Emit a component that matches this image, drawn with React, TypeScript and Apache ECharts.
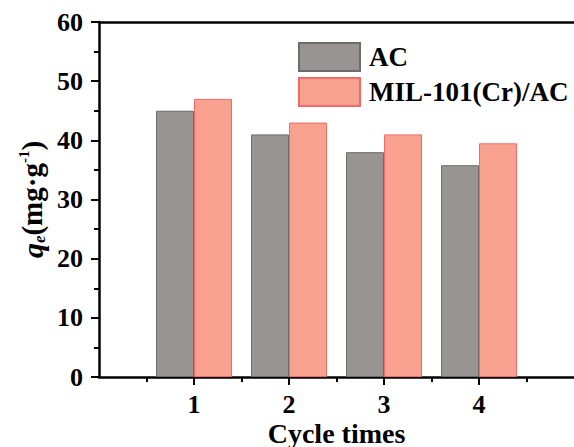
import React, { useEffect, useRef } from "react";
import * as echarts from "echarts";

const categories = ["1", "2", "3", "4"];
const acValues = [45.0, 41.0, 38.0, 35.8];
const milValues = [47.0, 43.0, 41.0, 39.5];
const seriesNames = ["AC", "MIL-101(Cr)/AC"];
const yTicks = [0, 10, 20, 30, 40, 50, 60];

const FONT = "'Liberation Serif', 'Times New Roman', serif";

export default function App() {
  const ref = useRef<HTMLDivElement>(null);
  useEffect(() => {
    if (!ref.current) return;
    const chart = echarts.init(ref.current, undefined, { renderer: "svg" });
    const catPos = categories.map((_, i) => i + 1);
    const axisLine = { show: true, lineStyle: { color: "#000", width: 2.5 } };
    chart.setOption({
      animation: false,
      backgroundColor: "#fff",
      grid: {
        left: 99,
        right: 0,
        top: 22,
        bottom: 70,
        containLabel: false,
        outerBoundsMode: "none",
      },
      legend: {
        orient: "vertical",
        left: 298,
        top: 42,
        padding: 0,
        itemWidth: 61,
        itemHeight: 28,
        itemGap: 5,
        icon: "rect",
        textStyle: {
          fontFamily: FONT,
          fontWeight: "bold",
          fontSize: 27,
          color: "#000",
          padding: [0, 0, 0, 4],
        },
        data: seriesNames,
      },
      xAxis: [
        {
          type: "value",
          min: 0,
          max: categories.length + 1,
          interval: 1,
          position: "bottom",
          axisLine,
          splitLine: { show: false },
          axisTick: {
            show: true,
            length: 8,
            customValues: catPos,
            lineStyle: { color: "#000", width: 2 },
          },
          minorTick: {
            show: true,
            splitNumber: 2,
            length: 5,
            lineStyle: { color: "#000", width: 2 },
          },
          axisLabel: {
            customValues: catPos,
            formatter: (v: number) => categories[v - 1] ?? "",
            fontFamily: FONT,
            fontWeight: "bold",
            fontSize: 26,
            color: "#000",
            margin: 14,
          },
          name: "Cycle times",
          nameLocation: "middle",
          nameGap: 42,
          nameMoveOverlap: false,
          nameTextStyle: {
            fontFamily: FONT,
            fontWeight: "bold",
            fontSize: 28,
            color: "#000",
          },
        },
        {
          type: "value",
          min: 0,
          max: categories.length + 1,
          position: "top",
          axisLine,
          axisTick: { show: false },
          axisLabel: { show: false },
          splitLine: { show: false },
        },
      ],
      yAxis: {
        type: "value",
        min: yTicks[0],
        max: yTicks[yTicks.length - 1],
        interval: 10,
        axisLine,
        splitLine: { show: false },
        axisTick: { show: true, length: 8, lineStyle: { color: "#000", width: 2 } },
        minorTick: {
          show: true,
          splitNumber: 2,
          length: 5,
          lineStyle: { color: "#000", width: 2 },
        },
        axisLabel: {
          fontFamily: FONT,
          fontWeight: "bold",
          fontSize: 26,
          color: "#000",
          margin: 16,
        },
        name: "{q|q}{e|e}{n|(mg·g}{s|-1}{n|)}",
        nameLocation: "middle",
        nameRotate: 90,
        nameGap: 51,
        nameMoveOverlap: false,
        nameTextStyle: {
          fontFamily: FONT,
          fontWeight: "bold",
          fontSize: 28,
          color: "#000",
          rich: {
            q: { fontFamily: FONT, fontWeight: "bold", fontStyle: "italic", fontSize: 30, color: "#000", lineHeight: 32, verticalAlign: "middle" },
            e: { fontFamily: FONT, fontWeight: "bold", fontStyle: "italic", fontSize: 17, color: "#000", verticalAlign: "bottom", lineHeight: 32 },
            n: { fontFamily: FONT, fontWeight: "bold", fontSize: 29, color: "#000", lineHeight: 32, verticalAlign: "middle" },
            s: { fontFamily: FONT, fontWeight: "bold", fontSize: 15, color: "#000", verticalAlign: "top", lineHeight: 32 },
          },
        },
      },
      series: [
        {
          name: seriesNames[0],
          type: "bar",
          barWidth: 38,
          barGap: "0%",
          data: acValues.map((v, i) => [catPos[i], v]),
          itemStyle: { color: "#989493", borderColor: "#6f6b6a", borderWidth: 1 },
        },
        {
          name: seriesNames[1],
          type: "bar",
          barWidth: 38,
          barGap: "0%",
          data: milValues.map((v, i) => [catPos[i], v]),
          itemStyle: { color: "#f7a18e", borderColor: "#f06a6a", borderWidth: 1 },
        },
      ],
    });
    return () => chart.dispose();
  }, []);
  return (
    <div
      ref={ref}
      style={{ position: "fixed", left: 0, top: 0, width: 574, height: 447 }}
    />
  );
}
